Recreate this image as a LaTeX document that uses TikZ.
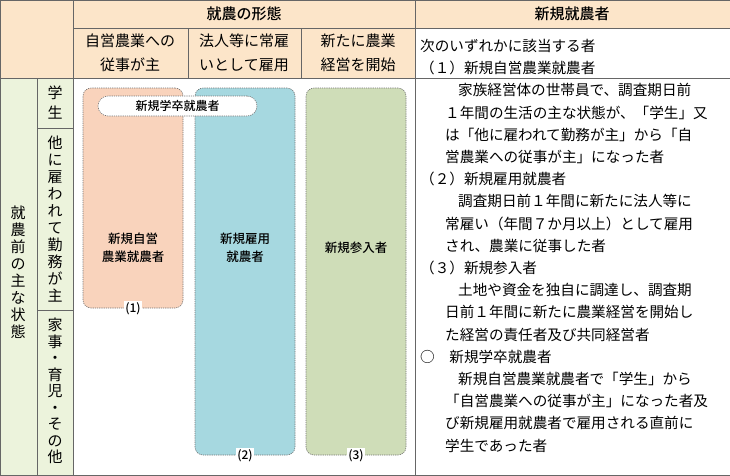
\documentclass[tikz,border=0pt]{standalone}
\usepackage{fontspec}
\setmainfont{Noto Sans CJK JP}
\newfontfamily\jpb{Noto Sans CJK JP Medium}
\begin{document}
\begin{tikzpicture}[x=1pt,y=-1pt,
  grid/.style={draw=black!60,line width=0.8pt},
  cat/.style={draw=black!55,dashed,dash pattern=on 1.2pt off 1pt,rounded corners=8pt,line width=0.6pt},
  lab/.style={font=\jpb\fontsize{12}{13}\selectfont,fill=white,inner sep=1pt},
  rt/.style={anchor=west,inner sep=0pt,font=\fontsize{14.6}{16}\selectfont},
  vt/.style={align=center,inner sep=0pt}]
\useasboundingbox (0,0) rectangle (730,475);
\fill[fill={rgb,255:red,252;green,229;blue,201}] (0,0) rectangle (730,78);
\fill[fill=white] (415,28) rectangle (730,78);
\fill[fill={rgb,255:red,236;green,243;blue,220}] (0,78) rectangle (73,475);
% boxes
\node[cat,fill={rgb,255:red,249;green,211;blue,188},minimum width=100,minimum height=220] (b1) at (133,198) {};
\node[cat,fill={rgb,255:red,166;green,216;blue,224},minimum width=100,minimum height=367] (b2) at (245,271.5) {};
\node[cat,fill={rgb,255:red,207;green,221;blue,184},minimum width=100,minimum height=367] (b3) at (356,271.5) {};
\node[cat,fill=white,rounded corners=10pt,minimum width=159,minimum height=20,font=\jpb\fontsize{12}{13}\selectfont] (pill) at (177.5,106) {新規学卒就農者};
\node[align=center,font=\jpb\fontsize{12.5}{18}\selectfont] (t1) at (133,248) {新規自営\\農業就農者};
\node[align=center,font=\jpb\fontsize{12.5}{18}\selectfont] (t2) at (245,248) {新規雇用\\就農者};
\node[font=\jpb\fontsize{12.5}{14}\selectfont] (t3) at (356,248) {新規参入者};
\node[lab] (l1) at (b1.south) {(1)};
\node[lab] (l2) at (b2.south) {(2)};
\node[lab] (l3) at (b3.south) {(3)};
% grid
\draw[grid] (0,0) rectangle (730,475);
\draw[grid] (73,28) -- (730,28);
\draw[grid] (0,78) -- (730,78);
\draw[grid] (73,0) -- (73,475);
\draw[grid] (37,78) -- (37,475);
\draw[grid] (37,128) -- (73,128);
\draw[grid] (37,310) -- (73,310);
\draw[grid] (188,28) -- (188,78);
\draw[grid] (301,28) -- (301,78);
\draw[grid] (415,0) -- (415,475);
% headers
\node[font=\jpb\fontsize{15}{17}\selectfont] (h0) at (244,14) {就農の形態};
\node[font=\jpb\fontsize{15}{17}\selectfont] (h1) at (572,14) {新規就農者};
\node[align=center,font=\fontsize{15}{24}\selectfont] (c1) at (130,53) {自営農業への\\従事が主};
\node[align=center,font=\fontsize{15}{24}\selectfont] (c2) at (244,53) {法人等に常雇\\いとして雇用};
\node[align=center,font=\fontsize{15}{24}\selectfont] (c3) at (358,53) {新たに農業\\経営を開始};
% side
\node[vt,font=\fontsize{15}{20}\selectfont] (s1) at (55,103) {学\\生};
\node[vt,font=\fontsize{15}{17}\selectfont] (s2) at (55,219) {他\\に\\雇\\わ\\れ\\て\\勤\\務\\が\\主};
\node[vt,font=\fontsize{15}{16.5}\selectfont] (s3) at (55,391) {家\\事\\・\\育\\児\\・\\そ\\の\\他};
\node[vt,font=\fontsize{15}{17}\selectfont] (s0) at (18,272) {就\\農\\前\\の\\主\\な\\状\\態};
% right text
\node[rt] (r1) at (420,46) {次のいずれかに該当する者};
\node[rt] (r2) at (420,68.2) {（１）新規自営農業就農者};
\node[rt] (r3) at (458,90.4) {家族経営体の世帯員で、調査期日前};
\node[rt] (r4) at (445,112.6) {１年間の生活の主な状態が、「学生」又};
\node[rt] (r5) at (445,134.8) {は「他に雇われて勤務が主」から「自};
\node[rt] (r6) at (445,157) {営農業への従事が主」になった者};
\node[rt] (r7) at (420,179.2) {（２）新規雇用就農者};
\node[rt] (r8) at (458,201.4) {調査期日前１年間に新たに法人等に};
\node[rt] (r9) at (445,223.6) {常雇い（年間７か月以上）として雇用};
\node[rt] (r10) at (445,245.8) {され、農業に従事した者};
\node[rt] (r11) at (420,268) {（３）新規参入者};
\node[rt] (r12) at (458,290.2) {土地や資金を独自に調達し、調査期};
\node[rt] (r13) at (445,312.4) {日前１年間に新たに農業経営を開始し};
\node[rt] (r14) at (445,334.6) {た経営の責任者及び共同経営者};
\node[rt] (r15) at (420,356.8) {○　新規学卒就農者};
\node[rt] (r16) at (458,379) {新規自営農業就農者で「学生」から};
\node[rt] (r17) at (445,401.2) {「自営農業への従事が主」になった者及};
\node[rt] (r18) at (445,423.4) {び新規雇用就農者で雇用される直前に};
\node[rt] (r19) at (445,445.6) {学生であった者};
\end{tikzpicture}
\end{document}
